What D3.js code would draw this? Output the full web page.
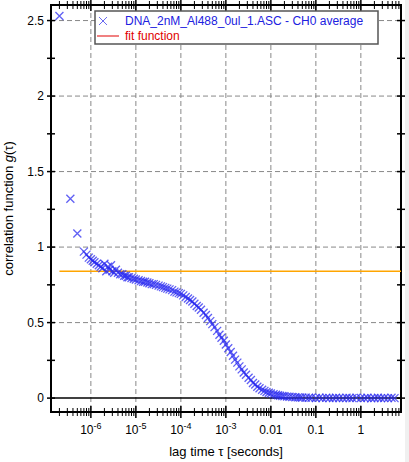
<!DOCTYPE html>
<html><head><meta charset="utf-8">
<script src="https://cdn.jsdelivr.net/npm/d3@7"></script>
<style>body{margin:0;background:#fff}svg{display:block;font-family:"Liberation Sans",Arial,sans-serif}</style>
</head><body><div id="chart"></div>
<script>
const tau = [2e-7,3.5e-7,5e-7,7e-7,8e-7,9e-7,1e-6,1.1e-6,1.2e-6,1.35e-6,1.5e-6,1.65e-6,1.8e-6,2e-6,2.2e-6,2.4e-6,2.6e-6,2.8e-6,3e-6,3.3e-6,3.6e-6,4e-6,4.5e-6,5e-6,5.5e-6,6e-6,6.5e-6,7e-6,8e-6,9e-6,1e-5,1.15e-5,1.3e-5,1.45e-5,1.6e-5,1.8e-5,2e-5,2.25e-5,2.5e-5,2.8e-5,3.2e-5,3.6e-5,4e-5,4.5e-5,5e-5,5.6e-5,6.4e-5,7.2e-5,8e-5,9e-5,1e-4,1.13e-4,1.28e-4,1.44e-4,1.6e-4,1.8e-4,2e-4,2.25e-4,2.5e-4,2.8e-4,3.2e-4,3.6e-4,4e-4,4.5e-4,5e-4,5.6e-4,6.4e-4,7.2e-4,8e-4,9e-4,1e-3,1.13e-3,1.28e-3,1.44e-3,1.6e-3,1.8e-3,2e-3,2.25e-3,2.5e-3,2.8e-3,3.2e-3,3.6e-3,4e-3,4.5e-3,5e-3,5.6e-3,6.4e-3,7.2e-3,8e-3,9e-3,1e-2,1.15e-2,1.3e-2,1.45e-2,1.6e-2,1.8e-2,2e-2,2.3e-2,2.6e-2,3e-2,3.5e-2,4e-2,4.5e-2,5e-2,6e-2,7e-2,8e-2,0.1,0.12,0.14,0.17,0.2,0.24,0.28,0.33,0.4,0.48,0.56,0.65,0.8,1,1.2,1.4,1.7,2,2.4,2.8,3.3,4,4.8,5.6,6.3];
const g = [2.53,1.32,1.09,0.97,0.95,0.93,0.92,0.91,0.9,0.89,0.88,0.87,0.86,0.89,0.84,0.87,0.85,0.88,0.84,0.83,0.85,0.83,0.82,0.82,0.81,0.81,0.8,0.8,0.795,0.79,0.785,0.78,0.775,0.77,0.77,0.765,0.76,0.755,0.755,0.75,0.745,0.74,0.735,0.73,0.725,0.72,0.715,0.705,0.7,0.695,0.69,0.68,0.67,0.66,0.65,0.64,0.625,0.61,0.6,0.585,0.565,0.55,0.53,0.51,0.49,0.47,0.445,0.42,0.4,0.38,0.355,0.33,0.305,0.28,0.255,0.235,0.21,0.19,0.17,0.155,0.135,0.12,0.1,0.09,0.075,0.065,0.055,0.048,0.04,0.035,0.03,0.026,0.022,0.019,0.016,0.014,0.012,0.01,0.009,0.007,0.006,0.005,0.004,0.003,0.003,0.002,0.002,0.001,0.003,0.0,0.002,0.001,0.0,0.002,0.001,0.0,0.002,0.001,0.0,0.002,0.001,0.0,0.002,-0.001,0.001,0.002,0.0,0.001,0.0,0.002,0.0];
const fitValue = 0.84;
const xTicks = [1e-6,1e-5,1e-4,1e-3,0.01,0.1,1];
const xTickLabels = ["10^-6","10^-5","10^-4","10^-3","0.01","0.1","1"];
const yTicks = [0,0.5,1,1.5,2,2.5];
const yTickLabels = ["0","0.5","1","1.5","2","2.5"];

const W = 409, H = 462;
const m = {l: 51, r: 8, t: 5, b: 50};
const svg = d3.select("#chart").append("svg").attr("width", W).attr("height", H);
svg.append("rect").attr("x", 405).attr("y", 0).attr("width", 4).attr("height", H).attr("fill", "#f0f0f0");

const x = d3.scaleLog().domain([1.3e-7, 7.8]).range([m.l, W - m.r]);
const y = d3.scaleLinear().domain([-0.092, 2.603]).range([H - m.b, m.t]);
const x0 = m.l, x1 = W - m.r, y0 = H - m.b, y1 = m.t;

// grid
svg.append("g").selectAll("line").data(xTicks).join("line")
  .attr("x1", d => x(d)).attr("x2", d => x(d)).attr("y1", y1).attr("y2", y0)
  .attr("stroke", "#888").attr("stroke-dasharray", "5,3");
svg.append("g").selectAll("line").data(yTicks.filter(d => d > 0)).join("line")
  .attr("x1", x0).attr("x2", x1).attr("y1", d => y(d)).attr("y2", d => y(d))
  .attr("stroke", "#888").attr("stroke-dasharray", "5,3");
svg.append("line").attr("x1", x0).attr("x2", x1).attr("y1", y(0)).attr("y2", y(0)).attr("stroke", "#000").attr("stroke-width", 1.5);

// minor/major ticks on x (bottom + top)
const minor = [];
for (let e = -7; e <= 0; e++) for (let k = 1; k <= 9; k++) {
  const v = k * Math.pow(10, e);
  if (v >= x.domain()[0] && v <= x.domain()[1]) minor.push({v, major: k === 1});
}
[y0, y1].forEach(yy => {
  svg.append("g").selectAll("line").data(minor).join("line")
    .attr("x1", d => x(d.v)).attr("x2", d => x(d.v))
    .attr("y1", d => yy - (d.major ? 6 : 4)).attr("y2", d => yy + (d.major ? 6 : 4))
    .attr("stroke", "#000").attr("stroke-width", d => d.major ? 1.5 : 1);
});
const yMinor = d3.range(0, 2.51, 0.25);
[x0, x1].forEach(xx => {
  svg.append("g").selectAll("line").data(yMinor).join("line")
    .attr("x1", xx - 4).attr("x2", xx + 4).attr("y1", d => y(d)).attr("y2", d => y(d))
    .attr("stroke", "#000").attr("stroke-width", 1.5);
});
svg.append("rect").attr("x", x0).attr("y", y1).attr("width", x1 - x0).attr("height", y0 - y1)
  .attr("fill", "none").attr("stroke", "#000").attr("stroke-width", 2);

// tick labels
const xl = svg.append("g").selectAll("text").data(xTicks).join("text")
  .attr("x", d => x(d)).attr("y", y0 + 22).attr("text-anchor", "middle").attr("font-size", 12);
xl.each(function(d, i) {
  const t = d3.select(this), s = xTickLabels[i];
  if (s.startsWith("10^")) {
    t.append("tspan").text("10");
    t.append("tspan").attr("dy", -5).attr("font-size", 9).text(s.slice(3));
  } else t.text(s);
});
svg.append("g").selectAll("text").data(yTicks).join("text")
  .attr("x", x0 - 7).attr("y", d => y(d) + 4).attr("text-anchor", "end").attr("font-size", 12)
  .text((d, i) => yTickLabels[i]);

// axis titles
svg.append("text").attr("x", (x0 + x1) / 2).attr("y", H - 6).attr("text-anchor", "middle").attr("font-size", 13)
  .text("lag time τ [seconds]");
const yt = svg.append("text").attr("transform", `translate(13,${(y0 + y1) / 2}) rotate(-90)`)
  .attr("text-anchor", "middle").attr("font-size", 13);
yt.append("tspan").text("correlation function ");
yt.append("tspan").attr("font-style", "italic").text("g");
yt.append("tspan").text("(τ)");

// fit line
svg.append("line").attr("x1", x(tau[0])).attr("x2", x1).attr("y1", y(fitValue)).attr("y2", y(fitValue))
  .attr("stroke", "#ffa500").attr("stroke-width", 1.3);

// data markers
const s = 4;
svg.append("g").selectAll("path").data(tau.map((t, i) => [t, g[i]])).join("path")
  .attr("d", d => { const cx = x(d[0]), cy = y(d[1]);
    return `M${cx - s},${cy - s}L${cx + s},${cy + s}M${cx - s},${cy + s}L${cx + s},${cy - s}`; })
  .attr("stroke", "#2a2af0").attr("stroke-opacity", 0.75).attr("stroke-width", 1.3).attr("fill", "none");

// legend
const lg = svg.append("g").attr("transform", "translate(95,11)");
lg.append("rect").attr("width", 283).attr("height", 33).attr("fill", "#fff").attr("stroke", "#555").attr("stroke-width", 1.5);
lg.append("path").attr("d", "M4,6L12,14M4,14L12,6").attr("stroke", "#6a6af0").attr("fill", "none");
lg.append("text").attr("x", 30).attr("y", 14).attr("font-size", 12).attr("fill", "#2020e0").text("DNA_2nM_Al488_0ul_1.ASC - CH0 average");
lg.append("line").attr("x1", 2).attr("x2", 24).attr("y1", 25).attr("y2", 25).attr("stroke", "#f08080").attr("stroke-width", 2);
lg.append("text").attr("x", 30).attr("y", 29).attr("font-size", 12).attr("fill", "#e00000").text("fit function");
</script></body></html>
